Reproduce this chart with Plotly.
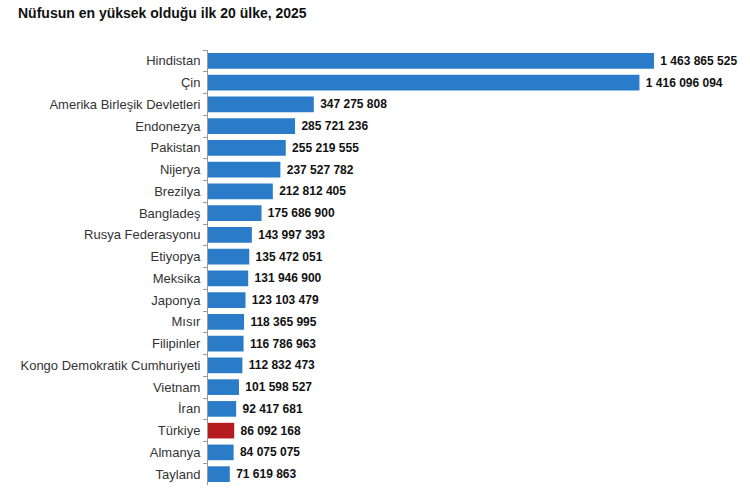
import plotly.graph_objects as go

countries = [
    "Hindistan", "Çin", "Amerika Birleşik Devletleri", "Endonezya", "Pakistan",
    "Nijerya", "Brezilya", "Bangladeş", "Rusya Federasyonu", "Etiyopya",
    "Meksika", "Japonya", "Mısır", "Filipinler", "Kongo Demokratik Cumhuriyeti",
    "Vietnam", "İran", "Türkiye", "Almanya", "Tayland",
]
population = [
    1463865525, 1416096094, 347275808, 285721236, 255219555,
    237527782, 212812405, 175686900, 143997393, 135472051,
    131946900, 123103479, 118365995, 116786963, 112832473,
    101598527, 92417681, 86092168, 84075075, 71619863,
]

BLUE = "#2a7cc8"
RED = "#b51c1e"
colors = [RED if c == "Türkiye" else BLUE for c in countries]

FONT = "Liberation Sans, Arial, sans-serif"

fig = go.Figure(go.Bar(
    x=population,
    y=countries,
    orientation="h",
    marker=dict(color=colors, line=dict(width=0)),
    texttemplate="<b>\u00a0%{x:,}</b>",
    textposition="outside",
    cliponaxis=False,
    textfont=dict(family=FONT, size=12, color="#111"),
    hoverinfo="skip",
))

fig.update_layout(
    width=750,
    height=495,
    margin=dict(l=208, r=85, t=49.5, b=10),
    paper_bgcolor="white",
    plot_bgcolor="white",
    separators=", ",
    bargap=0.28,
    showlegend=False,
    title=dict(
        text="<b>Nüfusun en yüksek olduğu ilk 20 ülke, 2025</b>",
        x=0.024, xanchor="left", y=0.974, yanchor="middle",
        font=dict(family=FONT, size=14, color="#111"),
    ),
    font=dict(family=FONT, color="#333"),
)

fig.update_xaxes(range=[0, 1.5e9], visible=False)

fig.update_yaxes(
    autorange="reversed",
    showline=True,
    linecolor="#9a9a9a",
    linewidth=1,
    ticks="outside",
    ticklen=4,
    tickcolor="#9a9a9a",
    tickson="boundaries",
    ticklabelstandoff=4,
    showgrid=False,
    tickfont=dict(family=FONT, size=13, color="#333"),
)

# drop the default body margin so the figure fills the window exactly
fig.write_html(
    "out.html",
    config={"displayModeBar": False},
    post_script="document.body.style.margin='0';",
)
